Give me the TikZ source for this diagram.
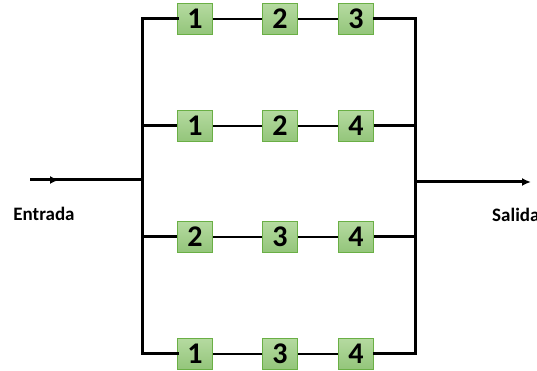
\documentclass[tikz,border=0pt]{standalone}
\usepackage{fontspec}
\setmainfont{Carlito}
\usetikzlibrary{arrows.meta}
\definecolor{boxtop}{HTML}{B5DAA0}
\definecolor{boxbot}{HTML}{93C57A}
\definecolor{boxline}{HTML}{6AAF45}
\begin{document}
\begin{tikzpicture}[x=1pt,y=1pt,
  comp/.style={draw=boxline, line width=1pt, top color=boxtop, bottom color=boxbot,
    minimum width=35pt, minimum height=31pt, inner sep=0pt,
    font=\fontsize{30}{30}\selectfont\bfseries},
  main/.style={line width=3pt},
  thin/.style={line width=2.5pt},
  lbl/.style={font=\fontsize{19}{19}\selectfont\bfseries, inner sep=0pt}]
\useasboundingbox (0,0) rectangle (537,371);
% bars
\coordinate (L1) at (142,352); \coordinate (L4) at (142,17);
\coordinate (R1) at (415,352); \coordinate (R4) at (415,17);
\coordinate (L2) at (142,245); \coordinate (L3) at (142,134);
\coordinate (R2) at (415,245); \coordinate (R3) at (415,134);
\coordinate (Lin) at (142,191); \coordinate (Rout) at (415,189);
\coordinate (inS) at (30,191); \coordinate (inM) at (59,191);
\coordinate (outE) at (531,189);
% row 1
\node[comp] (a1) at (195,352) {1};
\node[comp] (a2) at (280,352) {2};
\node[comp] (a3) at (356,352) {3};
% row 2
\node[comp] (b1) at (195,245) {1};
\node[comp] (b2) at (280,245) {2};
\node[comp] (b3) at (356,245) {4};
% row 3
\node[comp] (c1) at (195,134) {2};
\node[comp] (c2) at (280,134) {3};
\node[comp] (c3) at (356,134) {4};
% row 4
\node[comp] (d1) at (195,17) {1};
\node[comp] (d2) at (280,17) {3};
\node[comp] (d3) at (356,17) {4};
\draw[main,line cap=rect] (a1.west) -- (L1) -- (L4) -- (d1.west);
\draw[main,line cap=rect] (a3.east) -- (R1) -- (R4) -- (d3.east);
\draw[main] (L2) -- (b1.west);
\draw[main] (L3) -- (c1.west);
\draw[main] (b3.east) -- (R2);
\draw[main] (c3.east) -- (R3);
\foreach \r in {a,b,c,d}{
  \draw[thin] (\r1.east) -- (\r2.west);
  \draw[thin] (\r2.east) -- (\r3.west);
}
\draw[main] (inS) -- (Lin);
\draw[main,-{Latex[length=9pt,width=8pt]}] (inS) -- (inM);
\draw[main,-{Latex[length=9pt,width=8pt]}] (Rout) -- (outE);
\node[lbl] (ent) at (44,157) {Entrada};
\node[lbl,anchor=west] (sal) at (492,156) {Salida};
\end{tikzpicture}
\end{document}
